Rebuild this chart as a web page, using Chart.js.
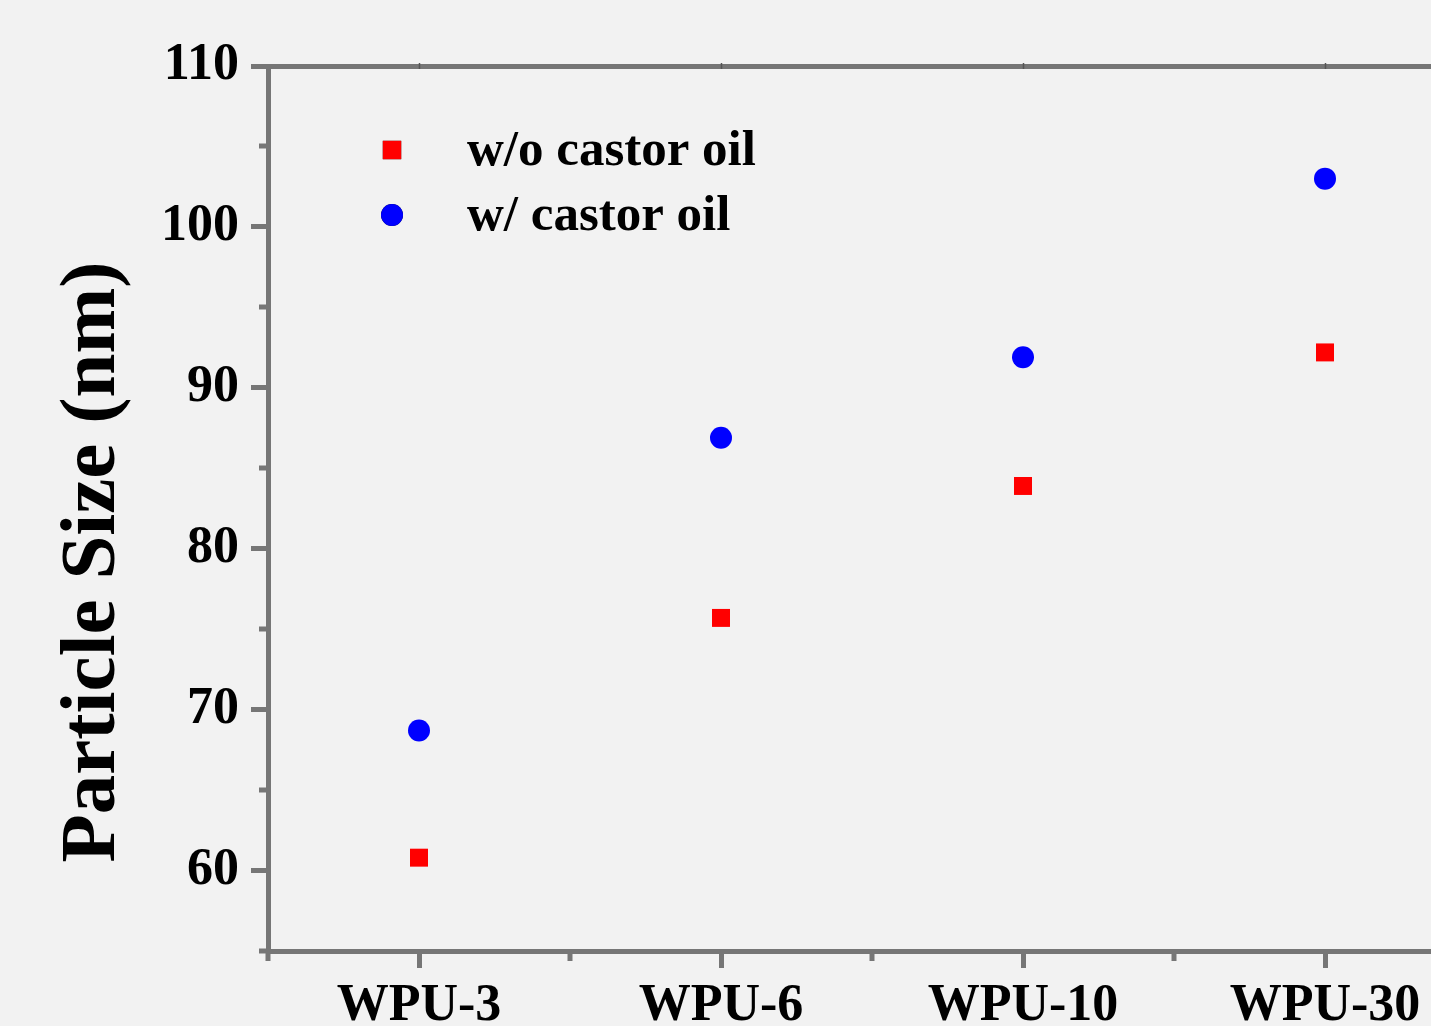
<!DOCTYPE html>
<html>
<head>
<meta charset="utf-8">
<title>Particle Size</title>
<script src="https://cdn.jsdelivr.net/npm/chart.js@4.4.1/dist/chart.umd.min.js"></script>
<style>
    html, body { margin: 0; padding: 0; background: #f2f2f2; overflow: hidden; }
    #wrap { width: 1500px; height: 1026px; }
</style>
</head>
<body>
<div id="wrap"><canvas id="chart" width="1500" height="1026"></canvas></div>
<script>
// data
var categories = ['WPU-3', 'WPU-6', 'WPU-10', 'WPU-30'];
var withoutOil = [60.8, 75.7, 83.9, 92.2];
var withOil = [68.7, 86.9, 91.9, 103.0];
var yMajorTicks = [60, 70, 80, 90, 100, 110];
var yMinorTicks = [55, 65, 75, 85, 95, 105];
var xMinorTicks = [-0.5, 0.5, 1.5, 2.5, 3.5];
var seriesNames = ['w/o castor oil', 'w/ castor oil'];
var yTitle = 'Particle Size (nm)';

var AXIS = '#767676';
var FONT = '"Liberation Serif", "Times New Roman", serif';

function toPoints(values) {
    return values.map(function (v, i) { return { x: i, y: v }; });
}

// minor ticks, top axis marks, axis title and the in-plot legend
var extras = {
    id: 'extras',
    afterDraw: function (chart) {
        var ctx = chart.ctx;
        var area = chart.chartArea;
        var xs = chart.scales.x;
        var ys = chart.scales.y;

        ctx.save();
        ctx.strokeStyle = AXIS;
        ctx.lineWidth = 5;
        yMinorTicks.forEach(function (v) {
            var py = Math.round(ys.getPixelForValue(v));
            ctx.beginPath();
            ctx.moveTo(area.left - 9, py);
            ctx.lineTo(area.left, py);
            ctx.stroke();
        });
        xMinorTicks.forEach(function (v) {
            var px = Math.round(xs.getPixelForValue(v));
            ctx.beginPath();
            ctx.moveTo(px, area.bottom);
            ctx.lineTo(px, area.bottom + 10);
            ctx.stroke();
        });

        // thin marks on the top axis
        ctx.strokeStyle = '#555';
        ctx.lineWidth = 1.5;
        categories.forEach(function (c, i) {
            var px = Math.round(xs.getPixelForValue(i)) + 0.5;
            ctx.beginPath();
            ctx.moveTo(px, area.top - 3);
            ctx.lineTo(px, area.top + 3);
            ctx.stroke();
        });

        // y axis title, sits a bit below the axis middle in the original
        ctx.save();
        ctx.translate(area.left - 174, area.top + 496);
        ctx.rotate(-Math.PI / 2);
        ctx.font = 'bold 79px ' + FONT;
        ctx.fillStyle = '#000';
        ctx.textAlign = 'center';
        ctx.textBaseline = 'middle';
        ctx.fillText(yTitle, 0, 0);
        ctx.restore();

        // legend
        var items = chart.data.datasets;
        ctx.font = 'bold 51px ' + FONT;
        ctx.textBaseline = 'middle';
        ctx.textAlign = 'left';
        items.forEach(function (ds, i) {
            var y = area.top + 84 + i * 65;
            Chart.helpers.drawPoint(ctx, {
                pointStyle: ds.pointStyle,
                radius: i === 0 ? 13 : 11,
                rotation: 0,
                borderWidth: 0
            }, area.left + 124, y);
            ctx.fillStyle = ds.backgroundColor;
            ctx.fill();
            ctx.fillStyle = '#000';
            ctx.fillText(seriesNames[i], area.left + 199, y + 2);
        });
        ctx.restore();
    }
};

new Chart(document.getElementById('chart'), {
    type: 'scatter',
    data: {
        datasets: [
            {
                label: seriesNames[0],
                data: toPoints(withoutOil),
                pointStyle: 'rect',
                pointRadius: 12.7,
                pointHoverRadius: 12.7,
                backgroundColor: '#ff0000',
                borderColor: '#ff0000',
                borderWidth: 0
            },
            {
                label: seriesNames[1],
                data: toPoints(withOil),
                pointStyle: 'circle',
                pointRadius: 11,
                pointHoverRadius: 11,
                backgroundColor: '#0000ff',
                borderColor: '#0000ff',
                borderWidth: 0
            }
        ]
    },
    options: {
        responsive: false,
        animation: false,
        devicePixelRatio: 1,
        layout: { padding: { left: 0, right: 24, top: 0, bottom: 0 } },
        plugins: {
            legend: { display: false },
            tooltip: { enabled: false }
        },
        scales: {
            x: {
                type: 'linear',
                position: 'bottom',
                min: -0.5,
                max: 3.5,
                afterBuildTicks: function (scale) {
                    scale.ticks = categories.map(function (c, i) { return { value: i }; });
                },
                afterFit: function (scale) { scale.height = 75; },
                ticks: {
                    autoSkip: false,
                    maxRotation: 0,
                    padding: 7,
                    color: '#000',
                    font: { family: FONT, size: 52, weight: 'bold' },
                    callback: function (v) { return categories[v]; }
                },
                grid: {
                    drawOnChartArea: false,
                    tickLength: 17,
                    tickWidth: 5,
                    tickColor: AXIS
                },
                border: { display: true, width: 5, color: AXIS }
            },
            x2: {
                type: 'linear',
                position: 'top',
                min: -0.5,
                max: 3.5,
                afterFit: function (scale) { scale.height = 66; },
                ticks: { display: false },
                grid: { drawOnChartArea: false, drawTicks: false },
                border: { display: true, width: 5, color: AXIS }
            },
            y: {
                position: 'left',
                min: 55,
                max: 110,
                afterBuildTicks: function (scale) {
                    scale.ticks = yMajorTicks.map(function (v) { return { value: v }; });
                },
                afterFit: function (scale) { scale.width = 268; },
                ticks: {
                    padding: 12,
                    color: '#000',
                    font: { family: FONT, size: 52, weight: 'bold' }
                },
                grid: {
                    drawOnChartArea: false,
                    tickLength: 17,
                    tickWidth: 5,
                    tickColor: AXIS
                },
                border: { display: true, width: 5, color: AXIS }
            }
        }
    },
    plugins: [extras]
});
</script>
</body>
</html>
